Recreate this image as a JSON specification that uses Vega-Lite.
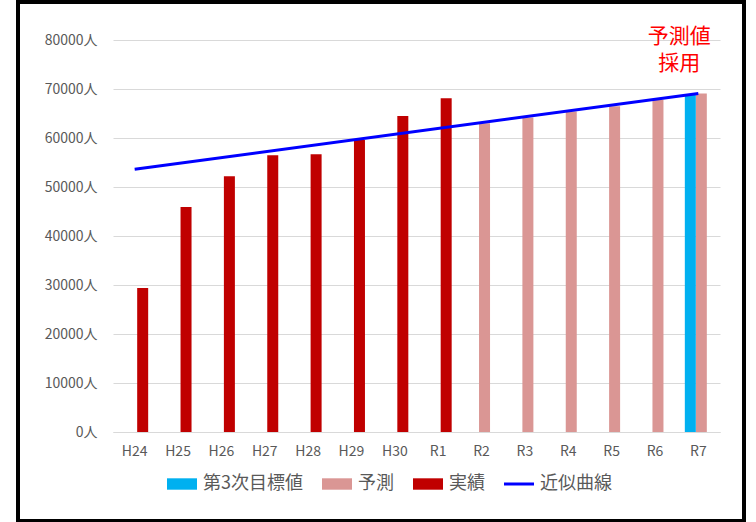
{
  "$schema": "https://vega.github.io/schema/vega-lite/v6.json",
  "width": 726,
  "height": 519,
  "autosize": {"type": "none"},
  "padding": {"left": 18, "top": 2, "right": 12, "bottom": 1},
  "background": "white",
  "config": {
    "view": {"stroke": "black", "strokeWidth": 4},
    "font": "Noto Sans CJK JP",
    "axis": {"labelFont": "Noto Sans CJK JP", "labelColor": "#595959"},
    "legend": {"labelFont": "Noto Sans CJK JP"}
  },
  "data": {
    "values": [
      {"year": "H24", "series": "実績", "value": 29400},
      {"year": "H25", "series": "実績", "value": 45900},
      {"year": "H26", "series": "実績", "value": 52200},
      {"year": "H27", "series": "実績", "value": 56500},
      {"year": "H28", "series": "実績", "value": 56700},
      {"year": "H29", "series": "実績", "value": 59600},
      {"year": "H30", "series": "実績", "value": 64500},
      {"year": "R1", "series": "実績", "value": 68100},
      {"year": "R2", "series": "予測", "value": 63000},
      {"year": "R3", "series": "予測", "value": 64200},
      {"year": "R4", "series": "予測", "value": 65400},
      {"year": "R5", "series": "予測", "value": 66500},
      {"year": "R6", "series": "予測", "value": 67800},
      {"year": "R7", "series": "予測", "value": 69100},
      {"year": "R7", "series": "第3次目標値", "value": 69000},
      {"year": "H24", "series": "近似曲線", "value": 53600},
      {"year": "R7", "series": "近似曲線", "value": 69100}
    ]
  },
  "encoding": {
    "x": {
      "field": "year",
      "type": "nominal",
      "scale": {
        "domain": ["H24", "H25", "H26", "H27", "H28", "H29", "H30", "R1", "R2", "R3", "R4", "R5", "R6", "R7"],
        "range": [95, 702],
        "paddingInner": 0,
        "paddingOuter": 0
      },
      "axis": {
        "title": null,
        "offset": -89,
        "domain": true,
        "domainColor": "#d9d9d9",
        "domainWidth": 1,
        "ticks": false,
        "tickSize": 0,
        "grid": false,
        "labelAngle": 0,
        "labelFontSize": 14,
        "labelPadding": 12
      }
    },
    "y": {
      "field": "value",
      "type": "quantitative",
      "scale": {"domain": [0, 80000], "range": [430, 38], "nice": false},
      "axis": {
        "title": null,
        "offset": -95,
        "domain": false,
        "ticks": false,
        "tickSize": 0,
        "values": [0, 10000, 20000, 30000, 40000, 50000, 60000, 70000, 80000],
        "labelExpr": "datum.value + '人'",
        "labelFontSize": 14,
        "labelPadding": 16,
        "gridColor": "#d9d9d9",
        "gridWidth": 1
      }
    },
    "color": {
      "field": "series",
      "type": "nominal",
      "scale": {
        "domain": ["第3次目標値", "予測", "実績", "近似曲線"],
        "range": ["#00b0f0", "#da9694", "#c00000", "#0000ff"]
      },
      "legend": {
        "title": null,
        "orient": "none",
        "legendX": 149,
        "legendY": 467,
        "direction": "horizontal",
        "columnPadding": 19,
        "labelOffset": 6,
        "symbolSize": 900,
        "labelFontSize": 18,
        "labelColor": "#595959",
        "labelLimit": 0,
        "encode": {
          "symbols": {
            "update": {
              "shape": {"signal": "datum.value === '近似曲線' ? 'M-1,-0.1H1V0.1H-1Z' : 'M-1,-0.38H1V0.38H-1Z'"},
              "fill": {"scale": "color", "field": "value"},
              "stroke": {"value": "transparent"},
              "strokeWidth": {"value": 0},
              "opacity": {"value": 1}
            }
          }
        }
      }
    }
  },
  "layer": [
    {
      "transform": [{"filter": "datum.series === '実績'"}],
      "mark": {"type": "bar", "width": 11, "xOffset": 8}
    },
    {
      "transform": [{"filter": "datum.series === '予測'"}],
      "mark": {"type": "bar", "width": 11, "xOffset": 3}
    },
    {
      "transform": [{"filter": "datum.series === '第3次目標値'"}],
      "mark": {"type": "bar", "width": 11, "xOffset": -8}
    },
    {
      "transform": [{"filter": "datum.series === '近似曲線'"}],
      "mark": {"type": "line", "strokeWidth": 3}
    },
    {
      "data": {"values": [{"year": "R7", "note": "予測値\n採用", "level": 80000}]},
      "mark": {
        "type": "text",
        "fill": "#ff0000",
        "fontSize": 21,
        "lineHeight": 27,
        "lineBreak": "\n",
        "align": "center",
        "baseline": "middle",
        "dx": -19,
        "dy": -3
      },
      "encoding": {
        "x": {"field": "year", "type": "nominal"},
        "y": {"field": "level", "type": "quantitative"},
        "text": {"field": "note", "type": "nominal"},
        "color": {"value": "#ff0000"}
      }
    }
  ]
}
